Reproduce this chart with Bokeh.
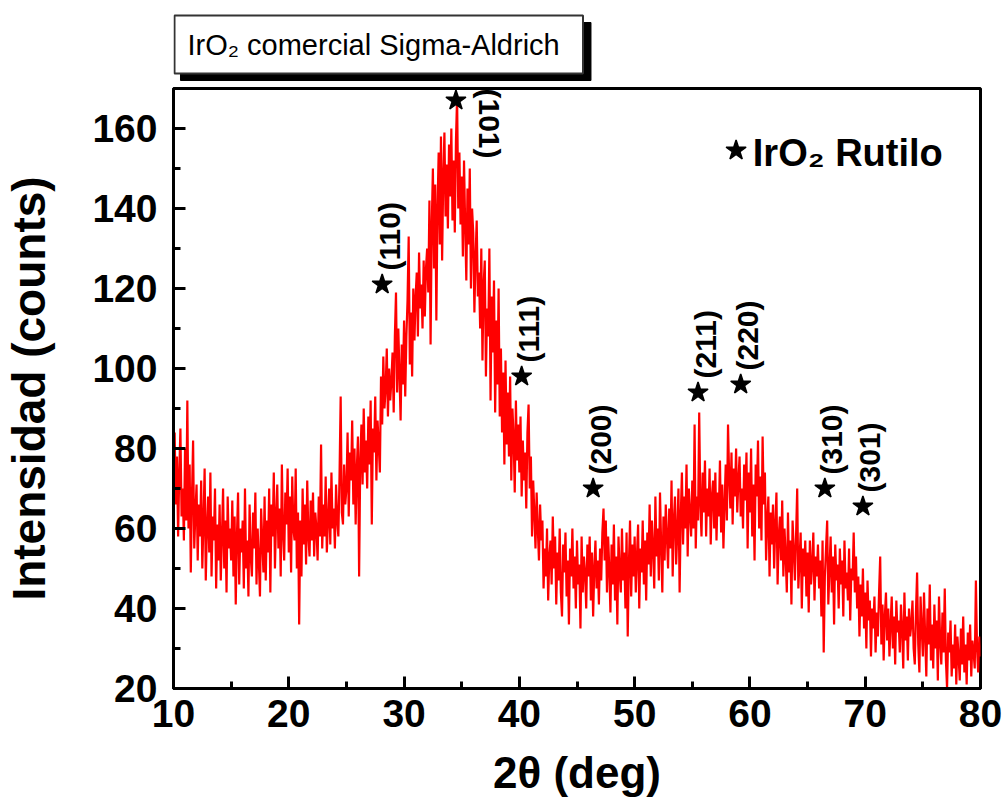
import numpy as np
from bokeh.plotting import figure
from bokeh.layouts import column
from bokeh.models import ColumnDataSource, SingleIntervalTicker, Label, Range1d
from bokeh.core.properties import value
from bokeh.embed import file_html
from bokeh.resources import INLINE

FONT = "Liberation Sans"

# XRD scan of commercial IrO2, 0.1 deg steps from 10 to 80 deg (2-theta)
two_theta = np.round(np.arange(0, 701) * 0.1 + 10.0, 1)
counts = [
    72, 84, 66, 78, 58, 74, 85, 63, 70, 57,
    80, 62, 92, 60, 76, 49, 68, 82, 55, 64,
    71, 52, 66, 58, 72, 50, 62, 75, 47, 60,
    68, 54, 74, 48, 63, 57, 70, 45, 61, 52,
    66, 47, 58, 70, 50, 62, 44, 68, 55, 60,
    52, 67, 48, 63, 41, 58, 69, 46, 60, 54,
    62, 45, 70, 50, 57, 43, 66, 53, 48, 64,
    55, 69, 46, 60, 52, 43, 65, 57, 49, 68,
    47, 62, 54, 70, 44, 66, 58, 74, 50, 63,
    71, 55, 65, 48, 76, 59, 52, 69, 61, 75,
    54, 68, 49, 73, 60, 57, 75, 50, 64, 36,
    62, 48, 70, 56, 66, 51, 72, 58, 53, 67,
    57, 69, 53, 64, 60, 52, 68, 58, 81, 55,
    66, 58, 73, 54, 62, 70, 56, 74, 60, 65,
    55, 71, 62, 58, 73, 93, 64, 61, 76, 66,
    70, 84, 63, 79, 72, 87, 66, 80, 61, 75,
    83, 48, 77, 86, 71, 90, 74, 82, 70, 88,
    76, 92, 61, 85, 79, 93, 72, 87, 81, 74,
    98, 86, 103, 90, 95, 105, 88, 100, 92, 97,
    104, 89, 108, 119, 94, 110, 99, 87, 106, 96,
    112, 93, 108, 117, 133, 101, 114, 98, 120, 107,
    118, 124, 108, 129, 115, 121, 110, 127, 113, 125,
    130, 119, 142, 106, 136, 150, 125, 146, 112, 140,
    154, 131, 158, 127, 148, 159, 138, 151, 135, 156,
    143, 160, 137, 152, 134, 157, 168, 140, 154, 136,
    148, 128, 152, 136, 122, 145, 131, 150, 120, 140,
    134, 114, 128, 137, 118, 124, 110, 130, 102, 121,
    127, 98, 115, 108, 130, 92, 118, 104, 122, 89,
    112, 96, 120, 88, 105, 84, 99, 76, 102, 81,
    94, 78, 98, 72, 90, 83, 69, 92, 77, 86,
    74, 88, 68, 82, 72, 79, 65, 84, 91, 70,
    78, 58, 72, 64, 55, 69, 60, 52, 66, 57,
    62, 45, 55, 48, 60, 42, 53, 57, 46, 63,
    50, 58, 41, 54, 47, 60, 44, 38, 56, 49,
    59, 43, 52, 36, 55, 48, 60, 45, 53, 40,
    57, 46, 51, 35, 58, 44, 53, 49, 40, 56,
    48, 58, 42, 54, 38, 50, 57, 45, 52, 41,
    55, 47, 59, 65, 52, 62, 44, 58, 50, 39,
    56, 46, 61, 42, 53, 36, 58, 49, 44, 60,
    47, 54, 40, 59, 33, 51, 62, 43, 56, 48,
    58, 44, 53, 61, 40, 55, 49, 62, 46, 57,
    42, 59, 51, 66, 48, 62, 55, 45, 68, 53,
    60, 47, 69, 56, 44, 63, 52, 66, 58, 50,
    65, 55, 72, 48, 62, 68, 51, 59, 70, 44,
    63, 74, 56, 68, 60, 76, 53, 70, 64, 58,
    72, 60, 86, 55, 68, 62, 89, 66, 58, 74,
    64, 77, 58, 70, 63, 75, 56, 68, 72, 60,
    74, 57, 69, 63, 77, 59, 71, 55, 66, 76,
    62, 86, 73, 65, 79, 61, 75, 68, 80, 64,
    72, 78, 63, 70, 60, 76, 67, 79, 55, 74,
    64, 80, 58, 71, 52, 76, 68, 82, 60, 73,
    57, 83, 66, 74, 52, 62, 68, 48, 64, 56,
    66, 50, 61, 69, 46, 58, 63, 52, 67, 48,
    60, 53, 44, 64, 49, 57, 41, 62, 55, 47,
    58, 70, 45, 52, 59, 40, 55, 48, 57, 43,
    54, 39, 57, 46, 51, 59, 42, 53, 48, 56,
    45, 52, 38, 57, 29, 48, 55, 62, 41, 50,
    58, 44, 53, 36, 56, 47, 51, 40, 55, 46,
    52, 38, 57, 45, 49, 42, 55, 37, 50, 47,
    59, 44, 53, 40, 48, 33, 46, 38, 50, 35,
    44, 30, 47, 37, 42, 28, 40, 35, 43, 29,
    39, 33, 44, 53, 31, 41, 27, 38, 44, 32,
    40, 28, 36, 43, 30, 38, 26, 42, 34, 37,
    29, 41, 35, 25, 44, 32, 38, 27, 40, 33,
    36, 42, 30, 26, 39, 49, 31, 24, 43, 35,
    28, 44, 33, 23, 40, 31, 46, 27, 36, 25,
    41, 30, 37, 22, 43, 32, 26, 39, 29, 45,
    27, 20, 34, 29, 37, 23, 31, 25, 36, 21,
    33, 28, 22, 35, 26, 38, 24, 31, 21, 34,
    27, 36, 23, 32, 29, 25, 47, 30, 24, 33,
    28,
]

# rutile IrO2 reflections marked on the pattern
peak_hkl = ["(110)", "(101)", "(111)", "(200)", "(211)", "(220)", "(310)", "(301)"]
peak_2theta = [28.1, 34.5, 40.2, 46.4, 55.5, 59.2, 66.5, 69.8]
peak_mark = [121.0, 167.0, 98.0, 70.0, 94.0, 96.0, 70.0, 65.5]

caption = "IrO₂ comercial Sigma-Aldrich"

# ---- caption strip above the plot ----
# the column aligns this frame with the plot frame below (x 172..980 px),
# so the x range is given in page pixels; y runs downward in pixels too
head = figure(width=1002, height=86, x_range=Range1d(172, 980), y_range=Range1d(86, 0),
              output_backend="svg", toolbar_location=None,
              x_axis_type=None, y_axis_type=None, min_border=0)
head.grid.visible = False
head.outline_line_color = None
head.background_fill_color = "white"
head.border_fill_color = "white"
head.quad(left=[179], right=[590], top=[22], bottom=[80],
          fill_color="black", line_color="black")
head.quad(left=[173], right=[582], top=[15], bottom=[73],
          fill_color="white", line_color="#333333", line_width=2)
head.text(x=[186], y=[44], text=[caption], text_font=value(FONT),
          text_font_size="29px", text_color="black",
          text_align="left", text_baseline="middle")

# ---- diffractogram ----
p = figure(width=1002, height=726, x_range=(10, 80), y_range=(20, 170),
           output_backend="svg", toolbar_location=None,
           min_border_left=172, min_border_right=22,
           min_border_top=2, min_border_bottom=124)
p.grid.visible = False
p.background_fill_color = "white"
p.border_fill_color = "white"
p.outline_line_color = "black"
p.outline_line_width = 3

p.xaxis.ticker = SingleIntervalTicker(interval=10, num_minor_ticks=2)
p.yaxis.ticker = SingleIntervalTicker(interval=20, num_minor_ticks=2)
for ax in p.axis:
    ax.axis_line_width = 3
    ax.axis_line_color = "black"
    ax.major_tick_in = 12
    ax.major_tick_out = 0
    ax.minor_tick_in = 7
    ax.minor_tick_out = 0
    ax.major_tick_line_width = 3
    ax.minor_tick_line_width = 3
    ax.major_label_text_font = FONT
    ax.major_label_text_font_style = "bold"
    ax.major_label_text_font_size = "39px"
    ax.major_label_text_color = "black"
    ax.axis_label_text_font = FONT
    ax.axis_label_text_font_style = "bold"
    ax.axis_label_text_font_size = "46px"
    ax.axis_label_text_color = "black"

p.xaxis.axis_label = "2θ (deg)"
p.xaxis.axis_label_text_font_size = "44px"
p.xaxis.major_label_standoff = 11
p.xaxis.axis_label_standoff = 18
p.yaxis.axis_label = "Intensidad (counts)"
p.yaxis.major_label_standoff = 16
p.yaxis.axis_label_standoff = 34

src = ColumnDataSource(data=dict(x=two_theta, y=counts))
p.line("x", "y", source=src, line_color="#ff0000", line_width=2.2)

# star over each reflection
marks = ColumnDataSource(data=dict(x=peak_2theta, y=peak_mark))
p.scatter("x", "y", source=marks, marker="star", size=21,
          fill_color="black", line_color="black", line_width=1.5)

# vertical Miller index next to each star
for hkl, tt, level in zip(peak_hkl, peak_2theta, peak_mark):
    if hkl == "(101)":
        p.add_layout(Label(x=tt, y=level, text=hkl, angle=-np.pi / 2,
                           text_font=FONT, text_color="black",
                           text_font_style="bold", text_font_size="30px",
                           text_align="left", text_baseline="middle",
                           x_offset=34, y_offset=12))
    else:
        p.add_layout(Label(x=tt, y=level, text=hkl, angle=np.pi / 2,
                           text_font=FONT, text_color="black",
                           text_font_style="bold", text_font_size="30px",
                           text_align="left", text_baseline="middle",
                           x_offset=7, y_offset=14))

# phase key
key_x, key_y = [58.8], [154.5]
p.scatter(key_x, key_y, marker="star", size=21,
          fill_color="black", line_color="black", line_width=1.5)
p.add_layout(Label(x=60.25, y=150.75, text="IrO₂ Rutilo", text_font=FONT,
                   text_color="black", text_font_style="bold",
                   text_font_size="38px", text_align="left",
                   text_baseline="alphabetic", y_offset=13))

open("out.html", "w").write(file_html(column(head, p), INLINE))
